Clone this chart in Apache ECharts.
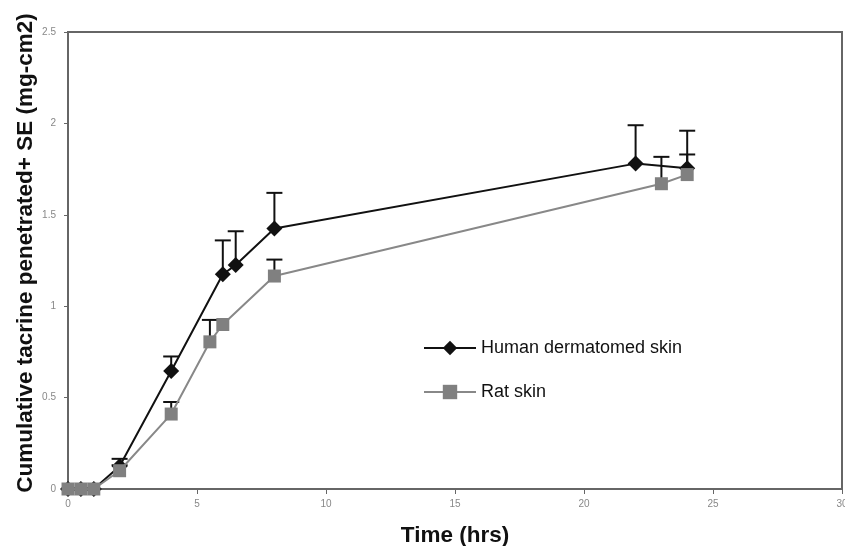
<!DOCTYPE html>
<html lang="en">

<head>
    <meta charset="UTF-8">
    <title>Cumulative tacrine penetrated</title>
    <script src="https://cdn.jsdelivr.net/npm/echarts@6/dist/echarts.min.js"></script>
    <style>
        html, body { margin: 0; padding: 0; background: #fff; }
        #chart { width: 845px; height: 546px; }
    </style>
</head>

<body>
    <div id="chart"></div>
    <script>
        // time points (hrs)
        let humanTime = [0, 0.5, 1, 2, 4, 6, 6.5, 8, 22, 24];
        let humanMean = [0, 0, 0, 0.125, 0.645, 1.175, 1.225, 1.425, 1.78, 1.755];
        let humanSE = [0, 0, 0, 0.04, 0.08, 0.185, 0.185, 0.195, 0.21, 0.205];

        let ratTime = [0, 0.5, 1, 2, 4, 5.5, 6, 8, 23, 24];
        let ratMean = [0, 0, 0, 0.1, 0.41, 0.805, 0.9, 1.165, 1.67, 1.72];
        let ratSE = [0, 0, 0, 0.03, 0.066, 0.12, 0, 0.09, 0.147, 0.11];

        let xTicks = [0, 5, 10, 15, 20, 25, 30];
        let yTicks = [0, 0.5, 1, 1.5, 2, 2.5];

        let chart = echarts.init(document.getElementById('chart'));

        function pairs(xs, ys) {
            return xs.map(function (x, i) { return [x, ys[i]]; });
        }
        function errData(xs, ys, se) {
            return xs.map(function (x, i) { return [x, ys[i], ys[i] + se[i]]; })
                .filter(function (d) { return d[2] > d[1]; });
        }

        // vertical bar from the mean up to mean+SE with a cap on top
        function errorBar(params, api) {
            let lo = api.coord([api.value(0), api.value(1)]);
            let hi = api.coord([api.value(0), api.value(2)]);
            let style = { stroke: '#111', lineWidth: 2 };
            return {
                type: 'group',
                children: [
                    { type: 'line', shape: { x1: lo[0], y1: lo[1], x2: hi[0], y2: hi[1] }, style: style },
                    { type: 'line', shape: { x1: hi[0] - 8, y1: hi[1], x2: hi[0] + 8, y2: hi[1] }, style: style }
                ]
            };
        }

        let titleFont = { fontFamily: 'Liberation Sans', fontWeight: 'bold', fontSize: 22.5, color: '#111' };

        let options = {
            animation: false,
            grid: {
                left: 68, right: 3, top: 32, bottom: 57,
                outerBoundsMode: 'none', containLabel: false,
                show: true, borderColor: '#666', borderWidth: 2
            },
            // y axis title, placed by hand so it sits where the original does
            graphic: [{
                type: 'text', x: 26, y: 253, rotation: Math.PI / 2,
                style: {
                    text: 'Cumulative tacrine penetrated+ SE (mg-cm2)',
                    font: 'bold 22.5px "Liberation Sans"', fill: '#111',
                    align: 'center', verticalAlign: 'middle'
                }
            }],
            legend: {
                left: 418, top: 334,
                orient: 'vertical',
                itemWidth: 52, itemHeight: 18, itemGap: 26,
                textStyle: { fontFamily: 'Liberation Sans', fontSize: 18, color: '#111' },
                data: ['Human dermatomed skin', 'Rat skin']
            },
            xAxis: {
                type: 'value', min: 0, max: 30, interval: 5,
                name: 'Time (hrs)', nameLocation: 'middle', nameGap: 35,
                nameTextStyle: titleFont,
                axisLine: { show: true, lineStyle: { color: '#666', width: 2 } },
                axisTick: { show: true, length: 5, lineStyle: { color: '#666' } },
                axisLabel: {
                    margin: 10, fontSize: 10, color: '#888', fontFamily: 'Liberation Sans',
                    formatter: function (v) { return xTicks.indexOf(v) >= 0 ? String(v) : ''; }
                },
                splitLine: { show: false }
            },
            yAxis: {
                type: 'value', min: 0, max: 2.5, interval: 0.5,
                axisLine: { show: true, lineStyle: { color: '#666', width: 2 } },
                axisTick: { show: true, length: 4, lineStyle: { color: '#666' } },
                axisLabel: {
                    margin: 12, fontSize: 10, color: '#888', fontFamily: 'Liberation Sans',
                    formatter: function (v) { return yTicks.indexOf(v) >= 0 ? String(v) : ''; }
                },
                splitLine: { show: false }
            },
            series: [
                {
                    name: 'Human SE', type: 'custom', renderItem: errorBar,
                    data: errData(humanTime, humanMean, humanSE), z: 2
                },
                {
                    name: 'Rat SE', type: 'custom', renderItem: errorBar,
                    data: errData(ratTime, ratMean, ratSE), z: 2
                },
                {
                    name: 'Human dermatomed skin', type: 'line',
                    data: pairs(humanTime, humanMean),
                    symbol: 'diamond', symbolSize: 16, showAllSymbol: true,
                    lineStyle: { color: '#111', width: 2 },
                    itemStyle: { color: '#111', borderWidth: 0 },
                    z: 3
                },
                {
                    name: 'Rat skin', type: 'line',
                    data: pairs(ratTime, ratMean),
                    symbol: 'rect', symbolSize: 13, showAllSymbol: true,
                    lineStyle: { color: '#888', width: 2 },
                    itemStyle: { color: '#808080', borderWidth: 0 },
                    z: 4
                }
            ]
        };
        chart.setOption(options);
    </script>
</body>

</html>
